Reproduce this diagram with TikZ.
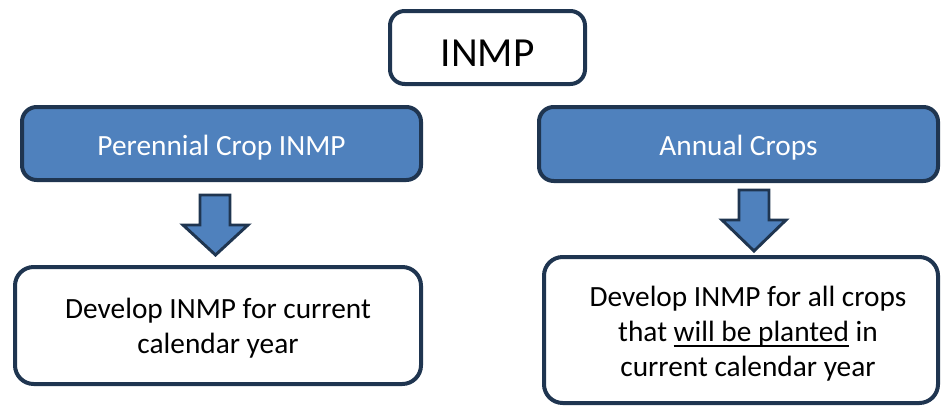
\documentclass[tikz,border=0pt]{standalone}
\usepackage{fontspec}
\setmainfont{Carlito}
\definecolor{navy}{HTML}{1F3550}
\definecolor{boxblue}{HTML}{4F81BD}
\newcommand\myul[1]{{\setbox0\hbox{#1}\rlap{\rule[-3.6pt]{\wd0}{1.1pt}}\box0}}
\begin{document}
\begin{tikzpicture}[x=0.75pt,y=-0.75pt,
  box/.style={draw=navy,line width=3pt,rounded corners=11pt,inner sep=0pt,align=center},
  bluebox/.style={box,fill=boxblue,text=white,font=\fontsize{22}{26}\selectfont},
  whitebox/.style={box,fill=white,text=black,rounded corners=14pt},
  bodytext/.style={inner sep=0pt,align=center,text=black,font=\fontsize{22}{26.3}\selectfont},
  blockarrow/.style={draw=navy,fill=boxblue,line width=2.2pt,line join=miter}]
\useasboundingbox (0,0) rectangle (942,407);
\node[box,fill=white,minimum width=195*0.75pt,minimum height=73*0.75pt,font=\fontsize{31}{36}\selectfont,text height=28.8pt,text depth=0pt] (inmp) at (487.5,47.5) {INMP};
\node[bluebox,minimum width=399*0.75pt,minimum height=73*0.75pt,text height=17.25pt,text depth=0pt] (peren) at (221.5,143.5) {Perennial Crop INMP};
\node[bluebox,minimum width=399*0.75pt,minimum height=74*0.75pt,text height=16.5pt,text depth=0pt] (annual) at (738.5,144) {Annual Crops};
\node[whitebox,minimum width=406*0.75pt,minimum height=117*0.75pt] (devl) at (218,325.5) {};
\node[bodytext] (devl-t) at (218,328) {Develop INMP for current\\calendar year};
\node[whitebox,minimum width=394*0.75pt,minimum height=146*0.75pt] (devr) at (741,330) {};
\node[bodytext] (devr-t) at (748,334) {Develop INMP for all crops\\that \myul{will be planted} in\\current calendar year};
\draw[blockarrow] (200,195) -- (230,195) -- (230,225) -- (248,225) -- (215.5,255) -- (183,225) -- (200,225) -- cycle;
\draw[blockarrow] (739,190) -- (769,190) -- (769,220) -- (786,220) -- (754,251) -- (722,220) -- (739,220) -- cycle;
\end{tikzpicture}
\end{document}
